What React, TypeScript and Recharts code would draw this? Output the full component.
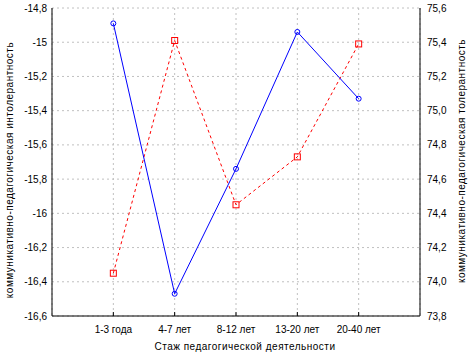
import { LineChart, Line, XAxis, YAxis, CartesianGrid, Label } from 'recharts';

const categories = ['1-3 года', '4-7 лет', '8-12 лет', '13-20 лет', '20-40 лет'];
const intolerance = [-14.89, -16.47, -15.74, -14.94, -15.33];
const tolerance = [74.05, 75.41, 74.45, 74.73, 75.39];
const leftTicks = [-14.8, -15, -15.2, -15.4, -15.6, -15.8, -16, -16.2, -16.4, -16.6];
const rightTicks = [73.8, 74.0, 74.2, 74.4, 74.6, 74.8, 75.0, 75.2, 75.4, 75.6];

const data = categories.map((name, i) => ({
  pos: i + 1,
  name,
  intolerance: intolerance[i],
  tolerance: tolerance[i],
}));

const FONT = '"Liberation Sans", Arial, sans-serif';
const tickStyle = { fontSize: 10, fill: '#000', fontFamily: FONT };

const CircleDot = (props: any) => {
  const { cx, cy, index } = props;
  if (cx == null || cy == null) return <g key={`c-${index}`} />;
  return <circle key={`c-${index}`} cx={cx} cy={cy} r={2.5} fill="none" stroke="#0000ff" strokeWidth={1} />;
};

const SquareDot = (props: any) => {
  const { cx, cy, index } = props;
  if (cx == null || cy == null) return <g key={`s-${index}`} />;
  return <rect key={`s-${index}`} x={cx - 3} y={cy - 3} width={6} height={6} fill="none" stroke="#ff0000" strokeWidth={1} />;
};

const leftFmt = (v: number) => String(Math.round(v * 10) / 10).replace('.', ',');
const rightFmt = (v: number) => v.toFixed(1).replace('.', ',');

export default function App() {
  return (
    <div style={{ position: 'absolute', left: 0, top: 0, background: '#fff' }}>
      <LineChart width={472} height={357} data={data} margin={{ top: 8, right: 0, left: 0, bottom: 0 }}>
        <CartesianGrid stroke="#c0c0c0" strokeDasharray="2 3" yAxisId="left" />
        <XAxis
          dataKey="pos"
          type="number"
          domain={[0, 6]}
          ticks={[1, 2, 3, 4, 5]}
          tickFormatter={(v: number) => categories[v - 1] ?? ''}
          height={41}
          axisLine={{ stroke: '#000' }}
          tickLine={{ stroke: '#000' }}
          tickSize={-4}
          tickMargin={14}
          tick={tickStyle}
          interval={0}
        >
          <Label
            content={() => (
              <text x={245} y={350} textAnchor="middle" fontSize={10} fontFamily={FONT} letterSpacing={0.5} fill="#000">
                Стаж педагогической деятельности
              </text>
            )}
          />
        </XAxis>
        <XAxis
          xAxisId="top"
          orientation="top"
          dataKey="pos"
          type="number"
          domain={[0, 6]}
          ticks={[1, 2, 3, 4, 5]}
          tickFormatter={() => ''}
          height={0}
          axisLine={{ stroke: '#000' }}
          tickLine={{ stroke: '#000' }}
          tickSize={-4}
        />
        <YAxis
          yAxisId="left"
          domain={[-16.6, -14.8]}
          ticks={leftTicks}
          tickFormatter={leftFmt}
          width={52}
          axisLine={{ stroke: '#000' }}
          tickLine={false}
          tickSize={0}
          tickMargin={5}
          tick={tickStyle}
          interval={0}
        >
          <Label
            content={() => (
              <text
                x={13}
                y={170}
                transform="rotate(-90 13 170)"
                textAnchor="middle"
                fontSize={10}
                fontFamily={FONT}
                letterSpacing={0.5}
                fill="#000"
              >
                коммуникативно-педагогическая интолерантность
              </text>
            )}
          />
        </YAxis>
        <YAxis
          yAxisId="right"
          orientation="right"
          domain={[73.8, 75.6]}
          ticks={rightTicks}
          tickFormatter={rightFmt}
          width={52}
          axisLine={{ stroke: '#000' }}
          tickLine={false}
          tickSize={0}
          tickMargin={7}
          tick={tickStyle}
          interval={0}
        >
          <Label
            content={() => (
              <text
                x={465}
                y={161}
                transform="rotate(-90 465 161)"
                textAnchor="middle"
                fontSize={10}
                fontFamily={FONT}
                letterSpacing={0.5}
                fill="#000"
              >
                коммуникативно-педагогическая толерантность
              </text>
            )}
          />
        </YAxis>
        <Line
          yAxisId="right"
          type="linear"
          dataKey="tolerance"
          stroke="#ff0000"
          strokeWidth={1}
          strokeDasharray="3 3"
          dot={SquareDot}
          activeDot={false}
          isAnimationActive={false}
        />
        <Line
          yAxisId="left"
          type="linear"
          dataKey="intolerance"
          stroke="#0000ff"
          strokeWidth={1}
          dot={CircleDot}
          activeDot={false}
          isAnimationActive={false}
        />
      </LineChart>
    </div>
  );
}
